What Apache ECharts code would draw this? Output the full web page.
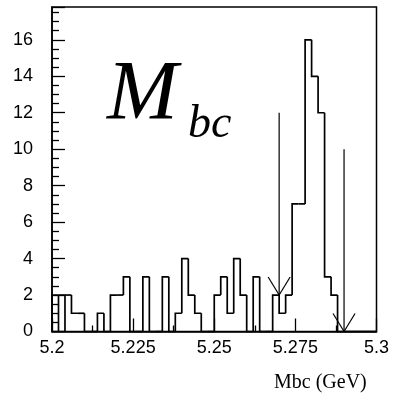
<!DOCTYPE html>
<html>
<head>
<meta charset="utf-8">
<script src="https://cdn.jsdelivr.net/npm/echarts@6/dist/echarts.min.js"></script>
<style>
html,body{margin:0;padding:0;background:#fff;}
#chart{width:393px;height:395px;}
</style>
</head>
<body>
<div id="chart"></div>
<script>
// Histogram of Mbc: bins of width 0.002 GeV starting at 5.200
var binStart = 5.200;
var binWidth = 0.002;
var counts = [2,2,2,1,1,0,0,1,0,2,
              2,3,0,0,3,0,0,3,0,1,
              4,2,1,0,0,2,3,1,4,2,
              0,3,0,0,2,1,2,7,7,16,
              14,12,3,2,0,0,0,0,0,0];
// bin edges where the outline also drops to zero
var dropEdges = [5.202, 5.204];
// signal-window arrows: position, top of shaft, tip
var arrowX = [5.270, 5.290];
var arrowTop = [12, 10];
var arrowTip = [2, 0];
var xTicks = [5.2, 5.225, 5.25, 5.275, 5.3];
var yTicks = [0, 2, 4, 6, 8, 10, 12, 14, 16];

var histData = counts.map(function (c, i) { return [i, c]; });
var arrowData = arrowX.map(function (x, i) { return [x, arrowTop[i], arrowTip[i]]; });

function edge(i) { return binStart + i * binWidth; }

var chart = echarts.init(document.getElementById('chart'), null, {renderer: 'canvas'});
var lineStyle = {stroke: '#000', lineWidth: 1.7, fill: null};

chart.setOption({
  animation: false,
  backgroundColor: '#fff',
  grid: {left: 52, right: 16.5, top: 7, bottom: 63.5, show: true, borderColor: '#000', borderWidth: 1.5},
  xAxis: {
    type: 'value', min: 5.2, max: 5.3, interval: 0.025,
    axisLine: {show: true, lineStyle: {color: '#000', width: 1.5}},
    axisTick: {show: true, inside: true, length: 13, lineStyle: {color: '#000', width: 1.3}},
    minorTick: {show: true, splitNumber: 2, length: 6, lineStyle: {color: '#000', width: 1.3}},
    splitLine: {show: false},
    axisLabel: {
      color: '#000', fontSize: 18, fontFamily: 'Liberation Sans, Arial, sans-serif', margin: 8,
      formatter: function (v) {
        var r = Math.round(v * 1000) / 1000;
        for (var k = 0; k < xTicks.length; k++) if (Math.abs(xTicks[k] - r) < 1e-6) return String(xTicks[k]);
        return '';
      }
    }
  },
  yAxis: {
    type: 'value', min: 0, max: 17.8, interval: 2,
    axisLine: {show: true, lineStyle: {color: '#000', width: 1.5}},
    axisTick: {show: true, inside: true, length: 13, lineStyle: {color: '#000', width: 1.3}},
    minorTick: {show: true, splitNumber: 4, length: 7, lineStyle: {color: '#000', width: 1.3}},
    splitLine: {show: false},
    axisLabel: {
      color: '#000', fontSize: 18, fontFamily: 'Liberation Sans, Arial, sans-serif', margin: 19,
      showMaxLabel: false,
      formatter: function (v) {
        var r = Math.round(v);
        return yTicks.indexOf(r) >= 0 && Math.abs(v - r) < 1e-6 ? String(r) : '';
      }
    }
  },
  graphic: [
    {type: 'text', left: 107, top: 54, silent: true,
     style: {text: 'M', font: 'italic 85px "Liberation Serif", "Times New Roman", serif', fill: '#000'}},
    {type: 'text', left: 188, top: 102, silent: true,
     style: {text: 'bc', font: 'italic 46px "Liberation Serif", "Times New Roman", serif', fill: '#000'}},
    {type: 'text', left: 274, top: 373, silent: true,
     style: {text: 'Mbc (GeV)', font: '20px "Liberation Serif", "Times New Roman", serif', fill: '#000'}}
  ],
  series: [
    {
      type: 'custom',
      coordinateSystem: 'cartesian2d',
      data: histData,
      encode: {x: 0, y: 1},
      renderItem: function (params, api) {
        var i = api.value(0);
        var c = api.value(1);
        var prev = i > 0 ? counts[i - 1] : 0;
        var x0 = edge(i), x1 = edge(i + 1);
        var children = [];
        var pts = [api.coord([x0, prev]), api.coord([x0, c]), api.coord([x1, c])];
        if (i === counts.length - 1) pts.push(api.coord([x1, 0]));
        children.push({type: 'polyline', shape: {points: pts}, style: lineStyle});
        for (var k = 0; k < dropEdges.length; k++) {
          if (Math.abs(dropEdges[k] - x0) < 1e-9) {
            children.push({type: 'line', shape: {
              x1: api.coord([x0, 0])[0], y1: api.coord([x0, 0])[1],
              x2: api.coord([x0, c])[0], y2: api.coord([x0, c])[1]}, style: lineStyle});
          }
        }
        return {type: 'group', children: children};
      }
    },
    {
      type: 'custom',
      coordinateSystem: 'cartesian2d',
      data: arrowData,
      encode: {x: 0, y: [1, 2]},
      renderItem: function (params, api) {
        var top = api.coord([api.value(0), api.value(1)]);
        var tip = api.coord([api.value(0), api.value(2)]);
        var st = {stroke: '#000', lineWidth: 1.2, fill: 'none'};
        return {type: 'group', children: [
          {type: 'line', shape: {x1: top[0], y1: top[1], x2: tip[0], y2: tip[1]}, style: st},
          {type: 'line', shape: {x1: tip[0] - 11, y1: tip[1] - 18, x2: tip[0], y2: tip[1]}, style: st},
          {type: 'line', shape: {x1: tip[0] + 11, y1: tip[1] - 18, x2: tip[0], y2: tip[1]}, style: st}
        ]};
      }
    }
  ]
});
</script>
</body>
</html>
